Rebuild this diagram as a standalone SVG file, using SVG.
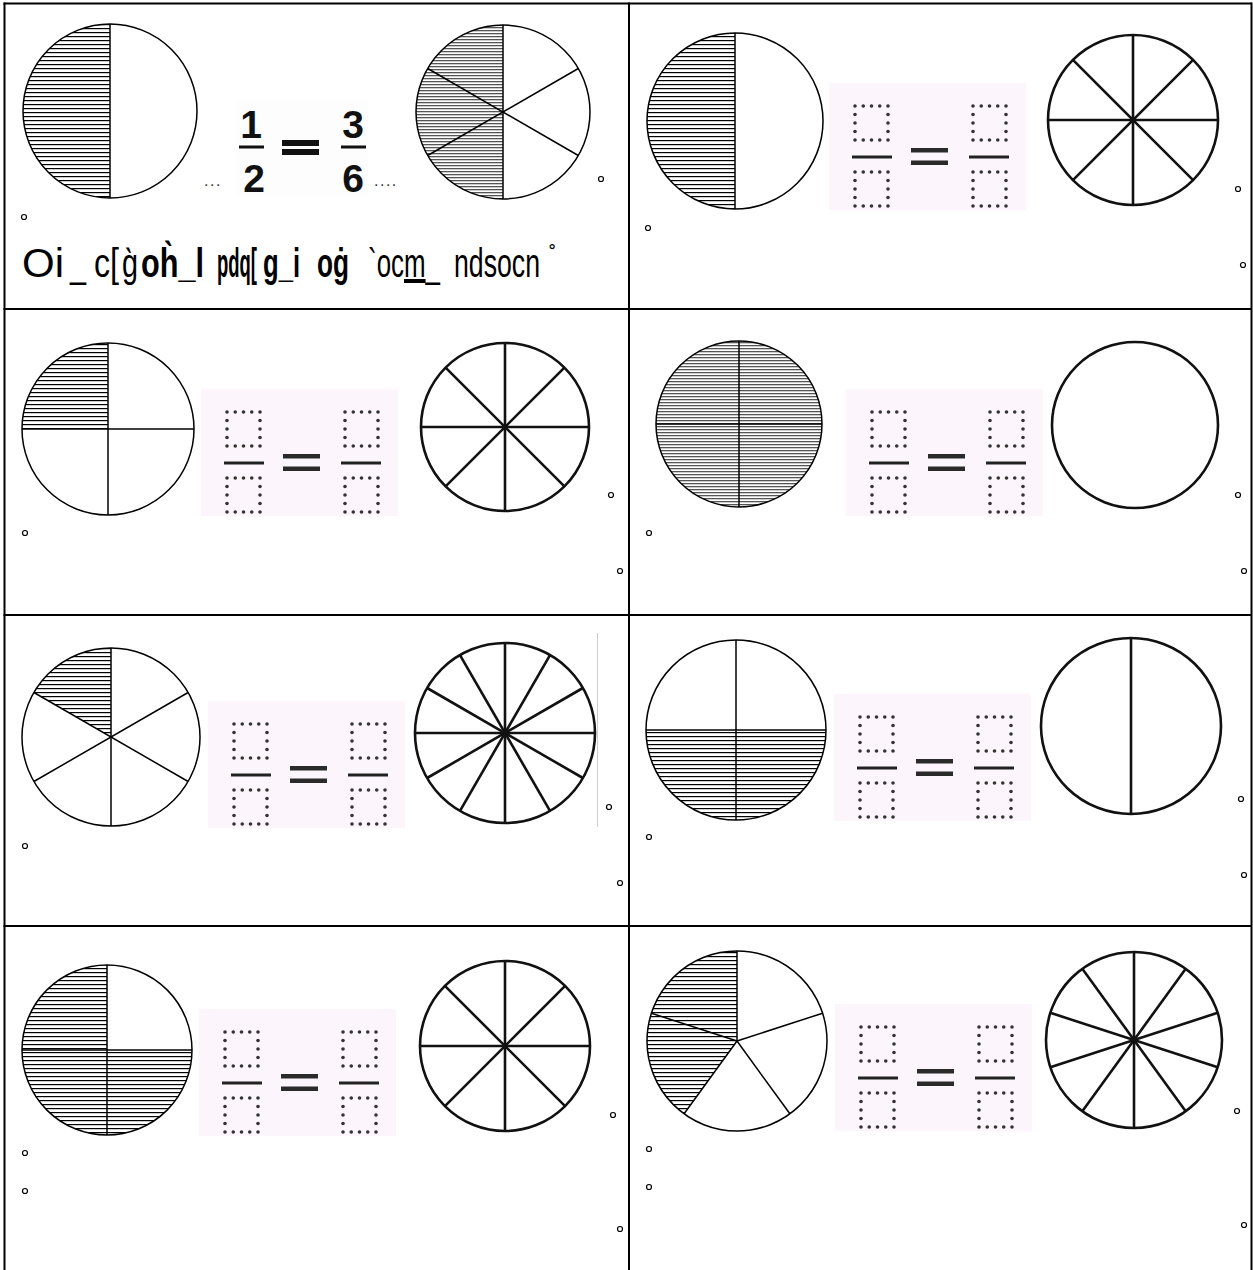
<svg xmlns="http://www.w3.org/2000/svg" width="1253" height="1270" viewBox="0 0 1253 1270">
<style>
.grid{stroke:#000;stroke-width:2;fill:none}
.thin{fill:none;stroke:#000;stroke-width:1.5}
.thick{fill:none;stroke:#111;stroke-width:2.6}
.ring{fill:none;stroke:#000;stroke-width:1.2}
.txt{font-family:"Liberation Sans",Arial,sans-serif;font-size:40px;fill:#000}
.b{font-weight:bold}
.num{font-family:"Liberation Sans",Arial,sans-serif;font-size:39px;font-weight:bold;fill:#111;text-anchor:middle}
.dots{font-family:"Liberation Sans",Arial,sans-serif;font-size:16px;fill:#333;letter-spacing:1.5px}
</style>
<defs>
<pattern id="hatch" patternUnits="userSpaceOnUse" width="10" height="4"><rect width="10" height="1.2" fill="#000"/></pattern>
<pattern id="hatchGrey" patternUnits="userSpaceOnUse" width="10" height="3"><rect width="10" height="1.3" fill="#555"/></pattern>
<g id="sq" fill="#333">
<circle cx="0" cy="0" r="1.8"/><circle cx="8.25" cy="0" r="1.8"/><circle cx="16.5" cy="0" r="1.8"/><circle cx="24.75" cy="0" r="1.8"/><circle cx="33" cy="0" r="1.8"/>
<circle cx="0" cy="8.5" r="1.8"/><circle cx="33" cy="8.5" r="1.8"/>
<circle cx="0" cy="17" r="1.8"/><circle cx="33" cy="17" r="1.8"/>
<circle cx="0" cy="25.5" r="1.8"/><circle cx="33" cy="25.5" r="1.8"/>
<circle cx="0" cy="34" r="1.8"/><circle cx="8.25" cy="34" r="1.8"/><circle cx="16.5" cy="34" r="1.8"/><circle cx="24.75" cy="34" r="1.8"/><circle cx="33" cy="34" r="1.8"/>
</g>
<g id="frac">
<rect x="0" y="0" width="197" height="127" fill="#fcf6fc"/>
<use href="#sq" x="26" y="23"/>
<use href="#sq" x="144" y="23"/>
<use href="#sq" x="26" y="89"/>
<use href="#sq" x="144" y="89"/>
<rect x="23" y="72.5" width="40" height="3" fill="#222"/>
<rect x="140" y="72.5" width="40" height="3" fill="#222"/>
<rect x="82" y="65" width="37" height="4.5" fill="#2a2a2a"/>
<rect x="82" y="77.5" width="37" height="4.5" fill="#2a2a2a"/>
</g>
</defs>
<rect width="1253" height="1270" fill="#fff"/>

<g id="table">
<line class="grid" x1="4.5" y1="2.5" x2="4.5" y2="1270"/>
<line class="grid" x1="3.5" y1="3.5" x2="1252" y2="3.5"/>
<line class="grid" x1="1251.5" y1="2.5" x2="1251.5" y2="1270"/>
<line class="grid" x1="629" y1="2.5" x2="629" y2="1270"/>
<line class="grid" x1="3.5" y1="309" x2="1252" y2="309"/>
<line class="grid" x1="3.5" y1="615" x2="1252" y2="615"/>
<line class="grid" x1="3.5" y1="926" x2="1252" y2="926"/>
</g>

<g id="cell1">
<g id="c1-left">
<path d="M110,24 A87,87 0 0,0 110,198 Z" fill="url(#hatch)"/>
<circle class="thin" cx="110" cy="111" r="87"/>
<line class="thin" x1="110" y1="24" x2="110" y2="198"/>
</g>
<g id="c1-frac">
<rect x="235" y="100" width="133" height="96" fill="#fefdfe"/>
<text class="num" x="251" y="138">1</text>
<rect x="239" y="145.5" width="25" height="3" fill="#111"/>
<text class="num" x="254" y="192">2</text>
<rect x="282" y="140" width="37" height="6" fill="#111"/>
<rect x="282" y="149" width="37" height="6" fill="#111"/>
<text class="num" x="353" y="138">3</text>
<rect x="341" y="145.5" width="25" height="3" fill="#111"/>
<text class="num" x="353" y="192">6</text>
<text class="dots" x="204" y="186">...</text>
<text class="dots" x="374" y="186">....</text>
</g>
<g id="c1-right">
<path d="M503,25 A87,87 0 0,0 503,199 Z" fill="url(#hatchGrey)"/>
<circle class="thin" cx="503" cy="112" r="87"/>
<line class="thin" x1="503" y1="25" x2="503" y2="199"/>
<line class="thin" x1="427.7" y1="68.5" x2="578.3" y2="155.5"/>
<line class="thin" x1="427.7" y1="155.5" x2="578.3" y2="68.5"/>
</g>
<text id="c1-text" class="txt" y="277"><tspan x="22" textLength="42" lengthAdjust="spacingAndGlyphs">Oi</tspan><tspan x="70" textLength="16" lengthAdjust="spacingAndGlyphs">_</tspan><tspan x="94" textLength="25" lengthAdjust="spacingAndGlyphs">c[</tspan><tspan x="122" textLength="16" lengthAdjust="spacingAndGlyphs">g̀</tspan><tspan class="b" x="141" textLength="63" lengthAdjust="spacingAndGlyphs">oh̀_l</tspan><tspan class="b" x="217" textLength="40" lengthAdjust="spacingAndGlyphs">pdq[</tspan><tspan class="b" x="263" textLength="37" lengthAdjust="spacingAndGlyphs">g_i</tspan><tspan class="b" x="317" textLength="32" lengthAdjust="spacingAndGlyphs">oġ</tspan><tspan x="368" textLength="72" lengthAdjust="spacingAndGlyphs">`oc<tspan text-decoration="underline">m</tspan>_</tspan><tspan x="454" textLength="86" lengthAdjust="spacingAndGlyphs">ndsocn</tspan><tspan x="549" y="262" font-size="22">˚</tspan></text>
<circle class="ring" cx="601" cy="179" r="2.5"/>
<circle class="ring" cx="24" cy="217" r="2.5"/>
</g>

<g id="cell2">
<g id="c2-left">
<path d="M735,33 A88,88 0 0,0 735,209 Z" fill="url(#hatch)"/>
<circle class="thin" cx="735" cy="121" r="88"/>
<line class="thin" x1="735" y1="33" x2="735" y2="209"/>
</g>
<use id="c2-frac" href="#frac" x="829" y="83"/>
<g id="c2-right">
<circle class="thick" cx="1133" cy="120" r="85"/>
<line class="thick" x1="1133" y1="35" x2="1133" y2="205"/>
<line class="thick" x1="1193.1" y1="59.9" x2="1072.9" y2="180.1"/>
<line class="thick" x1="1048" y1="120" x2="1218" y2="120"/>
<line class="thick" x1="1072.9" y1="59.9" x2="1193.1" y2="180.1"/>
<circle cx="1133" cy="120" r="3" fill="#111"/>
</g>
<circle class="ring" cx="1238" cy="189" r="2.5"/>
<circle class="ring" cx="648" cy="228" r="2.5"/>
<circle class="ring" cx="1243" cy="265" r="2.5"/>
</g>

<g id="cell3">
<g id="c3-left">
<path d="M108,429 L22,429 A86,86 0 0,1 108,343 Z" fill="url(#hatch)"/>
<circle class="thin" cx="108" cy="429" r="86"/>
<line class="thin" x1="108" y1="343" x2="108" y2="515"/>
<line class="thin" x1="22" y1="429" x2="194" y2="429"/>
</g>
<use id="c3-frac" href="#frac" x="201" y="389"/>
<g id="c3-right">
<circle class="thick" cx="505" cy="427" r="84"/>
<line class="thick" x1="505" y1="343" x2="505" y2="511"/>
<line class="thick" x1="564.4" y1="367.6" x2="445.6" y2="486.4"/>
<line class="thick" x1="421" y1="427" x2="589" y2="427"/>
<line class="thick" x1="445.6" y1="367.6" x2="564.4" y2="486.4"/>
<circle cx="505" cy="427" r="3" fill="#111"/>
</g>
<circle class="ring" cx="611" cy="495" r="2.5"/>
<circle class="ring" cx="25" cy="533" r="2.5"/>
<circle class="ring" cx="620" cy="571" r="2.5"/>
</g>

<g id="cell4">
<g id="c4-left">
<circle cx="739" cy="424" r="83" fill="url(#hatchGrey)"/>
<circle class="thin" cx="739" cy="424" r="83"/>
<line class="thin" x1="739" y1="341" x2="739" y2="507"/>
<line class="thin" x1="656" y1="424" x2="822" y2="424"/>
</g>
<use id="c4-frac" href="#frac" x="846" y="389"/>
<g id="c4-right">
<circle class="thick" cx="1135" cy="425" r="83"/>
</g>
<circle class="ring" cx="1238" cy="495" r="2.5"/>
<circle class="ring" cx="649" cy="533" r="2.5"/>
<circle class="ring" cx="1244" cy="571" r="2.5"/>
</g>

<g id="cell5">
<g id="c5-left">
<path d="M111,737 L111,648 A89,89 0 0,0 33.9,692.5 Z" fill="url(#hatch)"/>
<circle class="thin" cx="111" cy="737" r="89"/>
<line class="thin" x1="111" y1="648" x2="111" y2="826"/>
<line class="thin" x1="33.9" y1="692.5" x2="188.1" y2="781.5"/>
<line class="thin" x1="33.9" y1="781.5" x2="188.1" y2="692.5"/>
</g>
<use id="c5-frac" href="#frac" x="208" y="701"/>
<g id="c5-right">
<circle class="thick" cx="505" cy="733" r="90"/>
<line class="thick" x1="505" y1="643" x2="505" y2="823"/>
<line class="thick" x1="550" y1="655.1" x2="460" y2="810.9"/>
<line class="thick" x1="582.9" y1="688" x2="427.1" y2="778"/>
<line class="thick" x1="415" y1="733" x2="595" y2="733"/>
<line class="thick" x1="582.9" y1="778" x2="427.1" y2="688"/>
<line class="thick" x1="550" y1="810.9" x2="460" y2="655.1"/>
<circle cx="505" cy="733" r="4" fill="#111"/>
<line x1="597.5" y1="633" x2="597.5" y2="827" stroke="#ccc" stroke-width="1"/>
</g>
<circle class="ring" cx="609" cy="807" r="2.5"/>
<circle class="ring" cx="25" cy="846" r="2.5"/>
<circle class="ring" cx="620" cy="883" r="2.5"/>
</g>

<g id="cell6">
<g id="c6-left">
<path d="M646,730 A90,90 0 0,0 826,730 Z" fill="url(#hatch)"/>
<circle class="thin" cx="736" cy="730" r="90"/>
<line class="thin" x1="736" y1="640" x2="736" y2="820"/>
<line class="thin" x1="646" y1="730" x2="826" y2="730"/>
</g>
<use id="c6-frac" href="#frac" x="834" y="694"/>
<g id="c6-right">
<ellipse class="thick" cx="1131" cy="726" rx="90" ry="88"/>
<line class="thick" x1="1131" y1="638" x2="1131" y2="814"/>
</g>
<circle class="ring" cx="1241" cy="799" r="2.5"/>
<circle class="ring" cx="649" cy="837" r="2.5"/>
<circle class="ring" cx="1244" cy="875" r="2.5"/>
</g>

<g id="cell7">
<g id="c7-left">
<path d="M107,1050 L107,965 A85,85 0 1,0 192,1050 Z" fill="url(#hatch)"/>
<circle class="thin" cx="107" cy="1050" r="85"/>
<line class="thin" x1="107" y1="965" x2="107" y2="1135"/>
<line class="thin" x1="22" y1="1050" x2="192" y2="1050"/>
</g>
<use id="c7-frac" href="#frac" x="199" y="1009"/>
<g id="c7-right">
<circle class="thick" cx="505" cy="1046" r="85"/>
<line class="thick" x1="505" y1="961" x2="505" y2="1131"/>
<line class="thick" x1="565.1" y1="985.9" x2="444.9" y2="1106.1"/>
<line class="thick" x1="420" y1="1046" x2="590" y2="1046"/>
<line class="thick" x1="444.9" y1="985.9" x2="565.1" y2="1106.1"/>
<circle cx="505" cy="1046" r="3" fill="#111"/>
</g>
<circle class="ring" cx="613" cy="1115" r="2.5"/>
<circle class="ring" cx="25" cy="1153" r="2.5"/>
<circle class="ring" cx="25" cy="1191" r="2.5"/>
<circle class="ring" cx="620" cy="1229" r="2.5"/>
</g>

<g id="cell8">
<g id="c8-left">
<path d="M737,1041 L684.1,1113.8 A90,90 0 0,1 737,951 Z" fill="url(#hatch)"/>
<circle class="thin" cx="737" cy="1041" r="90"/>
<line class="thin" x1="737" y1="1041" x2="737" y2="951"/>
<line class="thin" x1="737" y1="1041" x2="822.6" y2="1013.2"/>
<line class="thin" x1="737" y1="1041" x2="789.9" y2="1113.8"/>
<line class="thin" x1="737" y1="1041" x2="684.1" y2="1113.8"/>
<line class="thin" x1="737" y1="1041" x2="651.4" y2="1013.2"/>
</g>
<use id="c8-frac" href="#frac" x="835" y="1004"/>
<g id="c8-right">
<circle class="thick" cx="1134" cy="1040" r="88"/>
<line class="thick" x1="1134" y1="952" x2="1134" y2="1128"/>
<line class="thick" x1="1185.7" y1="968.8" x2="1082.3" y2="1111.2"/>
<line class="thick" x1="1217.7" y1="1012.8" x2="1050.3" y2="1067.2"/>
<line class="thick" x1="1217.7" y1="1067.2" x2="1050.3" y2="1012.8"/>
<line class="thick" x1="1185.7" y1="1111.2" x2="1082.3" y2="968.8"/>
<circle cx="1134" cy="1040" r="3.5" fill="#111"/>
</g>
<circle class="ring" cx="1237" cy="1111" r="2.5"/>
<circle class="ring" cx="649" cy="1149" r="2.5"/>
<circle class="ring" cx="649" cy="1187" r="2.5"/>
<circle class="ring" cx="1244" cy="1225" r="2.5"/>
</g>
</svg>
